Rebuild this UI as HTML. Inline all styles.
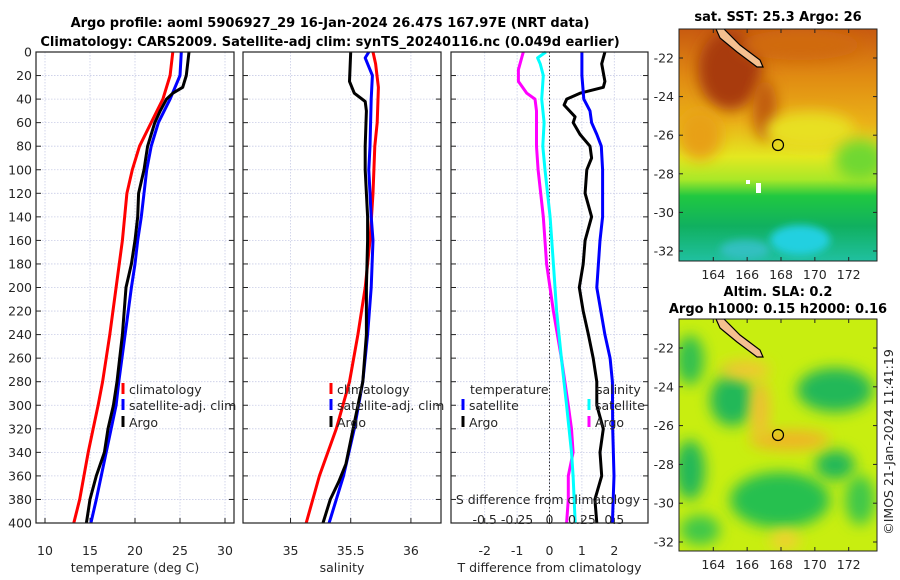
<!DOCTYPE html>
<html><head><meta charset="utf-8"><style>
html,body{margin:0;padding:0;background:#fff;}
svg{display:block;font-family:"DejaVu Sans","Liberation Sans",sans-serif;}
.tk{font-size:12.5px;fill:#262626;}
.tt{font-size:13px;font-weight:bold;fill:#000;}
</style></head><body>
<svg id="fig" width="900" height="580" viewBox="0 0 900 580">
<defs>
<filter id="bl" x="-50%" y="-50%" width="200%" height="200%"><feGaussianBlur stdDeviation="7"/></filter>
<filter id="bl2" x="-50%" y="-50%" width="200%" height="200%"><feGaussianBlur stdDeviation="4"/></filter>
<clipPath id="c1"><rect x="679" y="29" width="198" height="232"/></clipPath>
<clipPath id="c2"><rect x="679" y="319" width="198" height="232"/></clipPath>
<linearGradient id="sstg" x1="0" y1="0" x2="0" y2="1">
<stop offset="0" stop-color="#c85a10"/><stop offset="0.2" stop-color="#e08a12"/><stop offset="0.4" stop-color="#eab018"/>
<stop offset="0.55" stop-color="#e4e820"/><stop offset="0.65" stop-color="#a8e828"/><stop offset="0.72" stop-color="#20c840"/>
<stop offset="0.85" stop-color="#10b060"/><stop offset="1" stop-color="#20c0a0"/></linearGradient>
</defs>
<text class="tt" x="330" y="27" text-anchor="middle">Argo profile: aoml 5906927_29 16-Jan-2024 26.47S 167.97E (NRT data)</text>
<text class="tt" x="330" y="46" text-anchor="middle">Climatology: CARS2009. Satellite-adj clim: synTS_20240116.nc (0.049d earlier)</text>
<g id="plots"></g>

<!-- SST map -->
<g>
<g clip-path="url(#c1)">
<rect x="679" y="29" width="198" height="232" fill="url(#sstg)"/>
<ellipse cx="730" cy="70" rx="32" ry="40" fill="#a83a0c" filter="url(#bl)"/>
<ellipse cx="800" cy="45" rx="60" ry="15" fill="#d06a10" filter="url(#bl)"/>
<ellipse cx="765" cy="110" rx="12" ry="30" fill="#c05a10" filter="url(#bl)"/>
<ellipse cx="810" cy="130" rx="45" ry="18" fill="#e8e020" filter="url(#bl)"/>
<ellipse cx="860" cy="160" rx="25" ry="20" fill="#70d830" filter="url(#bl)"/>
<ellipse cx="700" cy="135" rx="22" ry="25" fill="#e8a018" filter="url(#bl)"/>
<ellipse cx="800" cy="240" rx="30" ry="15" fill="#20d0e0" filter="url(#bl2)"/>
<ellipse cx="745" cy="250" rx="25" ry="10" fill="#30c0c0" filter="url(#bl2)"/>
<rect x="746" y="180" width="4" height="4" fill="#fff"/><rect x="756" y="183" width="5" height="10" fill="#fff"/>
<polygon points="716,29 724,29 740,45 760,60 763,67 757,67 737,52 720,38" fill="#f5c090" stroke="#000" stroke-width="1.2"/>
</g>
<rect x="679" y="29" width="198" height="232" fill="none" stroke="#222" stroke-width="1"/>
<circle cx="778" cy="145" r="5.5" fill="none" stroke="#000" stroke-width="1.2"/>
<text class="tt" x="778" y="21" text-anchor="middle">sat. SST: 25.3 Argo: 26</text>
</g>
<!-- SLA map -->
<g>
<g clip-path="url(#c2)">
<rect x="679" y="319" width="198" height="232" fill="#c8ee10"/>
<ellipse cx="732" cy="400" rx="22" ry="26" fill="#20b858" filter="url(#bl)"/>
<ellipse cx="835" cy="390" rx="38" ry="22" fill="#20b858" filter="url(#bl)"/>
<ellipse cx="690" cy="360" rx="14" ry="25" fill="#30c050" filter="url(#bl)"/>
<ellipse cx="690" cy="470" rx="15" ry="30" fill="#20b858" filter="url(#bl)"/>
<ellipse cx="780" cy="500" rx="50" ry="28" fill="#28c050" filter="url(#bl)"/>
<ellipse cx="835" cy="465" rx="20" ry="15" fill="#20b858" filter="url(#bl)"/>
<ellipse cx="860" cy="500" rx="15" ry="25" fill="#40c848" filter="url(#bl)"/>
<ellipse cx="700" cy="530" rx="20" ry="15" fill="#40c848" filter="url(#bl)"/>
<ellipse cx="790" cy="440" rx="40" ry="10" fill="#f0b428" filter="url(#bl)"/>
<ellipse cx="760" cy="410" rx="10" ry="30" fill="#f0c030" filter="url(#bl)"/>
<ellipse cx="745" cy="370" rx="25" ry="10" fill="#f0c830" filter="url(#bl)"/>
<ellipse cx="785" cy="540" rx="15" ry="10" fill="#f0d030" filter="url(#bl)"/>
<polygon points="716,319 724,319 740,335 760,350 763,357 757,357 737,342 720,328" fill="#f5c090" stroke="#000" stroke-width="1.2"/>
</g>
<rect x="679" y="319" width="198" height="232" fill="none" stroke="#222" stroke-width="1"/>
<circle cx="778" cy="435" r="5.5" fill="none" stroke="#000" stroke-width="1.2"/>
<text class="tt" x="778" y="296" text-anchor="middle">Altim. SLA: 0.2</text>
<text class="tt" x="778" y="313" text-anchor="middle">Argo h1000: 0.15 h2000: 0.16</text>
</g>
<text class="tk" transform="translate(893,442) rotate(-90)" text-anchor="middle">©IMOS 21-Jan-2024 11:41:19</text>
<g id="maps"></g>
<script>
// ---- data (depth in m) ----
const depthTClim=[0,20,40,60,80,100,120,160,200,240,280,300,340,380,400];
const tempClim=[24.2,23.9,23.1,21.8,20.5,19.7,19.1,18.6,17.9,17.2,16.4,15.9,14.8,13.85,13.2];
const depthTSat=[0,20,40,60,80,100,120,140,160,180,200,240,280,300,340,380,400];
const tempSat=[25.15,25.0,23.9,22.6,21.8,21.3,21.0,20.7,20.3,20.0,19.6,18.9,18.2,17.9,16.8,15.7,15.1];
const depthTArgo=[0,20,30,35,40,50,60,80,100,120,140,160,180,200,240,280,300,320,340,360,380,400];
const tempArgo=[26.0,25.7,25.3,24.2,23.5,22.8,22.2,21.4,21.0,20.4,20.3,20.0,19.6,19.0,18.6,18.0,17.6,17.0,16.6,15.7,15.0,14.6];
const depthSClim=[0,10,30,60,80,120,160,200,240,280,320,360,400];
const salClim=[35.685,35.707,35.73,35.72,35.70,35.685,35.66,35.62,35.56,35.49,35.38,35.24,35.13];
const depthSSat=[0,5,20,40,80,100,140,160,200,240,280,320,360,400];
const salSat=[35.65,35.62,35.68,35.67,35.66,35.65,35.67,35.685,35.67,35.64,35.60,35.53,35.44,35.32];
const depthSArgo=[0,25,35,42,50,80,100,140,160,200,240,280,320,350,365,380,400];
const salArgo=[35.5,35.49,35.53,35.62,35.63,35.62,35.62,35.64,35.64,35.63,35.63,35.60,35.52,35.46,35.40,35.33,35.27];
const depthDTSat=[0,20,40,50,60,70,80,100,140,160,200,240,260,280,320,360,400];
const dTSat=[1.0,1.0,1.06,1.25,1.3,1.46,1.6,1.64,1.64,1.56,1.46,1.71,1.87,1.94,1.95,1.99,1.94];
const depthDTArgo=[0,10,25,30,35,40,45,55,60,70,80,90,100,120,140,160,180,200,220,240,260,280,300,320,340,360,380,400];
const dTArgo=[1.71,1.61,1.71,1.66,0.94,0.53,0.45,0.79,0.73,0.94,1.25,1.3,1.15,1.1,1.3,1.1,1.04,0.92,1.04,1.2,1.35,1.46,1.46,1.66,1.56,1.61,1.4,1.46];
const depthDSSat=[0,5,10,20,40,60,80,100,140,180,220,260,300,340,360,400];
const dSSat=[-0.028,-0.092,-0.072,-0.048,-0.06,-0.042,-0.052,-0.035,0.005,0.03,0.055,0.092,0.132,0.17,0.182,0.198];
const depthDSArgo=[0,15,25,35,40,50,80,100,140,180,220,260,300,320,340,360,380,400];
const dSArgo=[-0.202,-0.24,-0.24,-0.175,-0.112,-0.1,-0.1,-0.088,-0.048,-0.022,0.03,0.092,0.145,0.17,0.182,0.145,0.145,0.132];
const depthTicks=[0,20,40,60,80,100,120,140,160,180,200,220,240,260,280,300,320,340,360,380,400];
const tempTicks=[10,15,20,25,30];
const salTicks=[35,35.5,36];
const dTTicks=[-2,-1,0,1,2];
const dSTickLabels=["-0.5","-0.25","0","0.25","0.5"];
const latTicks=[-22,-24,-26,-28,-30,-32];
const lonTicks=[164,166,168,170,172];

const NS="http://www.w3.org/2000/svg";
const root=document.getElementById('plots');
function mk(tag,attrs,parent,txt){const e=document.createElementNS(NS,tag);for(const k in attrs)e.setAttribute(k,attrs[k]);if(txt!==undefined)e.textContent=txt;(parent||root).appendChild(e);return e;}
const Y0=52,Y1=523;
const yD=d=>Y0+(d/400)*(Y1-Y0);
function panel(name,x0,x1,xmin,xmax){
  const xs=v=>x0+(v-xmin)/(xmax-xmin)*(x1-x0);
  const g=mk('g',{});
  
  
  return {g,xs,x0,x1};
}
function grid(p,xt,showY){
  depthTicks.forEach(d=>{
    const l=mk('line',{x1:p.x0,x2:p.x1,y1:yD(d),y2:yD(d),stroke:'#c8cce6','stroke-width':0.8,'stroke-dasharray':'1.5,1.5'},p.g);
    
    
    mk('line',{x1:p.x0,x2:p.x0+5,y1:yD(d),y2:yD(d),stroke:'#222'},p.g);
    mk('line',{x1:p.x1,x2:p.x1-5,y1:yD(d),y2:yD(d),stroke:'#222'},p.g);
    if(showY){const t=mk('text',{x:p.x0-4,y:yD(d)+4.5,'text-anchor':'end',class:'tk'},p.g,String(d));
      
      }
  });
  xt.forEach(v=>{
    const l=mk('line',{x1:p.xs(v),x2:p.xs(v),y1:Y0,y2:Y1,stroke:'#c8cce6','stroke-width':0.8,'stroke-dasharray':'1.5,1.5'},p.g);
    
    
    mk('line',{x1:p.xs(v),x2:p.xs(v),y1:Y1,y2:Y1-5,stroke:'#222'},p.g);
  });
}
function tickLabels(p,vals,labels,y){
  vals.forEach((v,i)=>{const t=mk('text',{x:p.xs(v),y:y,'text-anchor':'middle',class:'tk'},p.g,labels[i]);
    
    });
}
function series(p,xsF,vals,depths,color,name){
  const pts=vals.map((v,i)=>xsF(v).toFixed(1)+','+yD(depths[i]).toFixed(1)).join(' ');
  const l=mk('polyline',{points:pts,fill:'none',stroke:color,'stroke-width':3,'stroke-linejoin':'round'},p.g);
  
  
}
function frame(p){mk('rect',{x:p.x0,y:Y0,width:p.x1-p.x0,height:Y1-Y0,fill:'none',stroke:'#222','stroke-width':1.2},p.g);}
function legendItem(g,x,y,color,label,name){
  mk('rect',{x:x-1.5,y:y-6,width:3,height:11,fill:color},g);
  const t=mk('text',{x:x+6,y:y+5,class:'tk'},g,label);
  
  
}
function xlabel(p,txt,name){const t=mk('text',{x:(p.x0+p.x1)/2,y:572,'text-anchor':'middle',class:'tk'},p.g,txt);
  
  }

// Panel 1: temperature
const p1=panel('temperature-panel',36,234,9,31);
grid(p1,tempTicks,true);
series(p1,p1.xs,tempClim,depthTClim,'#ff0000','temp-climatology-line');
series(p1,p1.xs,tempSat,depthTSat,'#0000ff','temp-satellite-line');
series(p1,p1.xs,tempArgo,depthTArgo,'#000000','temp-argo-line');
frame(p1);
tickLabels(p1,tempTicks,tempTicks.map(String),555);
xlabel(p1,'temperature (deg C)','temperature-axis-title');
legendItem(p1.g,123,389,'#ff0000','climatology','legend-climatology');
legendItem(p1.g,123,405,'#0000ff','satellite-adj. clim','legend-satellite-adj');
legendItem(p1.g,123,422,'#000000','Argo','legend-argo');

// Panel 2: salinity
const p2=panel('salinity-panel',243,441,34.605,36.25);
grid(p2,salTicks,false);
series(p2,p2.xs,salClim,depthSClim,'#ff0000','sal-climatology-line');
series(p2,p2.xs,salSat,depthSSat,'#0000ff','sal-satellite-line');
series(p2,p2.xs,salArgo,depthSArgo,'#000000','sal-argo-line');
frame(p2);
tickLabels(p2,salTicks,["35","35.5","36"],555);
xlabel(p2,'salinity','salinity-axis-title');
legendItem(p2.g,331,389,'#ff0000','climatology','legend-climatology-2');
legendItem(p2.g,331,405,'#0000ff','satellite-adj. clim','legend-satellite-adj-2');
legendItem(p2.g,331,422,'#000000','Argo','legend-argo-2');

// Panel 3: differences
const p3=panel('difference-panel',451,648,-3.04,3.04);
grid(p3,dTTicks,false);
mk('line',{x1:p3.xs(0),x2:p3.xs(0),y1:Y0,y2:Y1,stroke:'#333','stroke-width':1,'stroke-dasharray':'1.5,2'},p3.g);
const sx=v=>p3.xs(v*4);
series(p3,sx,dSArgo,depthDSArgo,'#ff00ff','sdiff-argo-line');
series(p3,sx,dSSat,depthDSSat,'#00ffff','sdiff-satellite-line');
series(p3,p3.xs,dTArgo,depthDTArgo,'#000000','tdiff-argo-line');
series(p3,p3.xs,dTSat,depthDTSat,'#0000ff','tdiff-satellite-line');
frame(p3);
tickLabels(p3,dTTicks,dTTicks.map(String),555);
xlabel(p3,'T difference from climatology','tdiff-axis-title');
tickLabels(p3,dTTicks,dSTickLabels,524);
{const t=mk('text',{x:548,y:504,'text-anchor':'middle',class:'tk'},p3.g,'S difference from climatology');
 
 }
{const t=mk('text',{x:470,y:394,class:'tk'},p3.g,'temperature');
 
 }
legendItem(p3.g,463,405,'#0000ff','satellite','legend-t-satellite');
legendItem(p3.g,463,422,'#000000','Argo','legend-t-argo');
{const t=mk('text',{x:596,y:394,class:'tk'},p3.g,'salinity');
 
 }
legendItem(p3.g,589,405,'#00ffff','satellite','legend-s-satellite');
legendItem(p3.g,589,422,'#ff00ff','Argo','legend-s-argo');

// Map axes
const mroot=document.getElementById('maps');
function mapAxes(top,y22,y32,name){
  const g=mk('g',{},mroot);
  
  
  const lx=v=>713.3+(v-164)*(848.7-713.3)/8;
  const ly=v=>y22+(v+22)*(y32-y22)/(-10);
  lonTicks.forEach(v=>{
    mk('line',{x1:lx(v),x2:lx(v),y1:top+232,y2:top+228,stroke:'#222'},g);
    mk('line',{x1:lx(v),x2:lx(v),y1:top,y2:top+4,stroke:'#222'},g);
    const t=mk('text',{x:lx(v),y:top+250,'text-anchor':'middle',class:'tk'},g,String(v));
    
    
  });
  latTicks.forEach(v=>{
    mk('line',{x1:679,x2:683,y1:ly(v),y2:ly(v),stroke:'#222'},g);
    mk('line',{x1:877,x2:873,y1:ly(v),y2:ly(v),stroke:'#222'},g);
    const t=mk('text',{x:674,y:ly(v)+4.5,'text-anchor':'end',class:'tk'},g,String(v));
    
    
  });
}
mapAxes(29,58,251,'sst-map-axes');
mapAxes(319,348,542,'sla-map-axes');
</script>
</svg>
</body></html>
